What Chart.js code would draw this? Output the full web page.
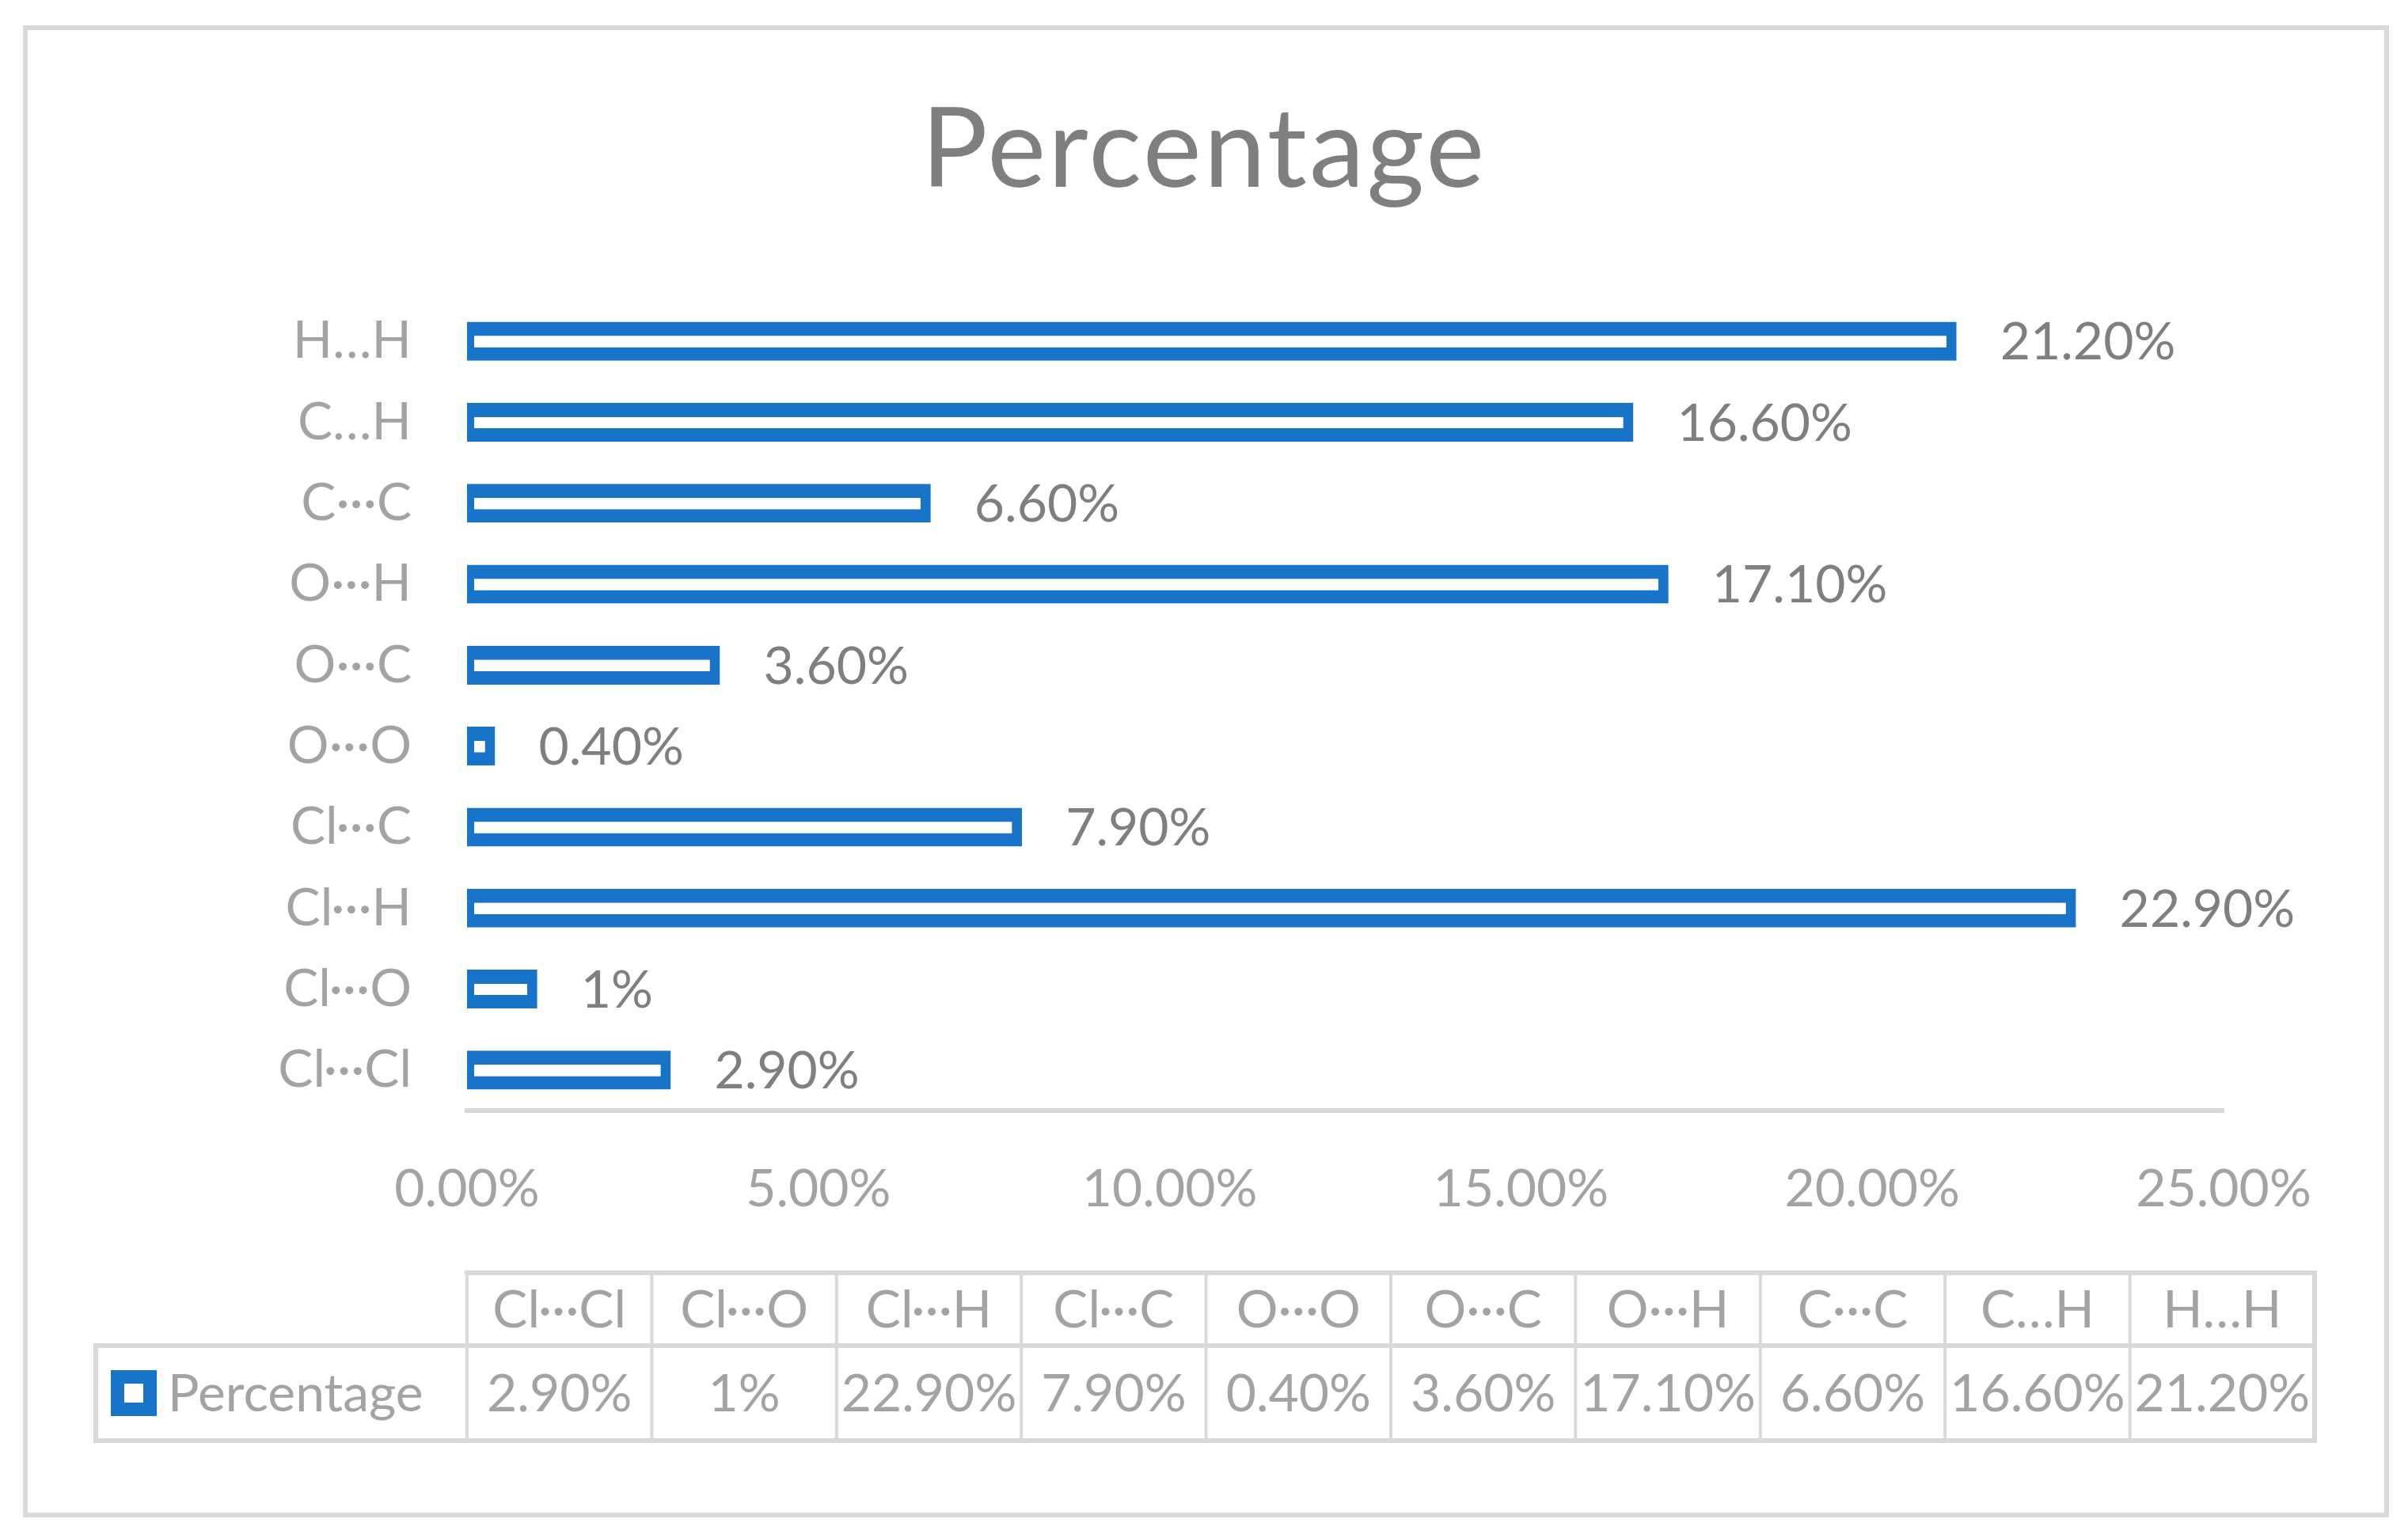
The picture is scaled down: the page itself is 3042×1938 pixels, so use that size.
<!DOCTYPE html>
<html><head><meta charset="utf-8">
<script src="https://cdn.jsdelivr.net/npm/chart.js@4/dist/chart.umd.min.js"></script>
<style>html,body{margin:0;padding:0;background:#fff;overflow:hidden}canvas{display:block}</style>
</head><body>
<canvas id="c" width="3042" height="1938" style="width:3042px;height:1938px"></canvas>
<script>
const categories = ['Cl···Cl','Cl···O','Cl···H','Cl···C','O···O','O···C','O···H','C···C','C…H','H…H'];
const values = [2.9, 1, 22.9, 7.9, 0.4, 3.6, 17.1, 6.6, 16.6, 21.2];
const valueLabels = ['2.90%','1%','22.90%','7.90%','0.40%','3.60%','17.10%','6.60%','16.60%','21.20%'];
const seriesName = 'Percentage';
const chartTitle = 'Percentage';
const xMin = 0, xMax = 25, xStep = 5;

const FONT = 'Lato';
const BLUE = '#1874C8';
const LIGHT = '#a3a3a3';
const DARK = '#7f7f7f';
const LINE = '#d9d9d9';

const framePlugin = {
  id: 'frame',
  beforeDraw(chart) {
    const ctx = chart.ctx;
    ctx.save();
    ctx.fillStyle = '#fff';
    ctx.fillRect(0, 0, chart.width, chart.height);
    ctx.strokeStyle = LINE;
    ctx.lineWidth = 6;
    ctx.strokeRect(32, 35, 2983, 1879);
    // title, centred on the whole chart
    ctx.font = '140px ' + FONT;
    try { ctx.letterSpacing = '3px'; } catch (e) {}
    ctx.fillStyle = DARK;
    ctx.textAlign = 'center';
    ctx.textBaseline = 'alphabetic';
    ctx.fillText(chartTitle, chart.width / 2, 236);
    ctx.restore();
  }
};

const valueLabelPlugin = {
  id: 'valueLabels',
  afterDatasetsDraw(chart) {
    const ctx = chart.ctx;
    const meta = chart.getDatasetMeta(0);
    ctx.save();
    ctx.font = '66px ' + FONT;
    ctx.fillStyle = DARK;
    ctx.textAlign = 'left';
    ctx.textBaseline = 'middle';
    meta.data.forEach((bar, i) => {
      ctx.fillText(valueLabels[i], bar.x + 55, bar.y + 2);
    });
    ctx.restore();
  }
};

const dataTablePlugin = {
  id: 'dataTable',
  afterDraw(chart) {
    const ctx = chart.ctx;
    const left = chart.chartArea.left;
    const right = 2924, legendLeft = 121;
    const top = 1608, mid = 1700, bottom = 1820;
    const n = categories.length;
    const colW = (right - left) / n;
    ctx.save();
    ctx.strokeStyle = LINE;
    ctx.lineWidth = 6;
    ctx.beginPath();
    ctx.moveTo(left - 3, top); ctx.lineTo(right + 3, top);
    ctx.moveTo(legendLeft - 3, mid); ctx.lineTo(right + 3, mid);
    ctx.moveTo(legendLeft - 3, bottom); ctx.lineTo(right + 3, bottom);
    ctx.moveTo(legendLeft, mid); ctx.lineTo(legendLeft, bottom);
    ctx.moveTo(right, top); ctx.lineTo(right, bottom);
    ctx.stroke();
    ctx.lineWidth = 4;
    ctx.beginPath();
    for (let i = 0; i < n; i++) {
      const x = left + i * colW;
      ctx.moveTo(x, top); ctx.lineTo(x, bottom);
    }
    ctx.stroke();
    ctx.font = '66px ' + FONT;
    ctx.fillStyle = LIGHT;
    ctx.textAlign = 'center';
    ctx.textBaseline = 'middle';
    for (let i = 0; i < n; i++) {
      const cx = left + (i + 0.5) * colW;
      ctx.fillText(categories[i], cx, (top + mid) / 2 + 2);
      ctx.fillText(valueLabels[i], cx, (mid + bottom) / 2 + 2);
    }
    const ky = (mid + bottom) / 2;
    ctx.fillStyle = BLUE;
    ctx.fillRect(140, ky - 29, 58, 58);
    ctx.fillStyle = '#fff';
    ctx.fillRect(157, ky - 12, 24, 24);
    ctx.fillStyle = LIGHT;
    ctx.textAlign = 'left';
    ctx.fillText(seriesName, 212, ky + 2);
    ctx.restore();
  }
};

new Chart(document.getElementById('c'), {
  type: 'bar',
  data: {
    labels: categories,
    datasets: [{
      label: seriesName,
      data: values,
      backgroundColor: '#ffffff',
      borderColor: BLUE,
      borderWidth: {top: 18, bottom: 17, left: 9, right: 13},
      borderSkipped: false,
      barPercentage: 0.48,
      categoryPercentage: 1.0
    }]
  },
  options: {
    indexAxis: 'y',
    responsive: false,
    devicePixelRatio: 1,
    animation: false,
    layout: { padding: { left: 40, right: 233, top: 380, bottom: 385 } },
    plugins: {
      legend: { display: false },
      tooltip: { enabled: false },
      title: { display: false }
    },
    scales: {
      x: {
        min: xMin, max: xMax,
        grid: { display: false, drawTicks: false },
        border: { display: true, color: LINE, width: 6 },
        ticks: {
          stepSize: xStep,
          padding: 60,
          color: LIGHT,
          font: { family: FONT, size: 66 },
          callback: v => v.toFixed(2) + '%'
        },
        afterFit(scale) { scale.height = 150; }
      },
      y: {
        reverse: true,
        grid: { display: false, drawTicks: false },
        border: { display: false },
        ticks: {
          padding: 70,
          color: LIGHT,
          font: { family: FONT, size: 66 }
        },
        afterFit(scale) { scale.width = 550; }
      }
    }
  },
  plugins: [framePlugin, valueLabelPlugin, dataTablePlugin]
});
</script>
</body></html>
